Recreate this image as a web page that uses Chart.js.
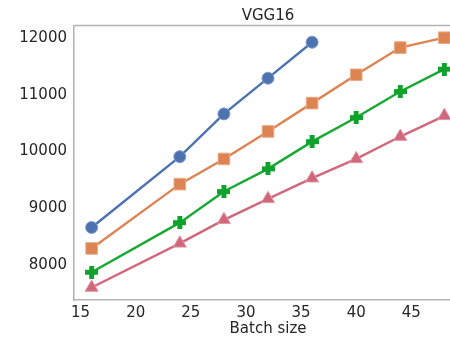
<!DOCTYPE html>
<html>
<head>
<meta charset="utf-8">
<script src="https://cdn.jsdelivr.net/npm/chart.js@4"></script>
<style>
    html, body { margin: 0; padding: 0; background: #fff; overflow: hidden; }
    #wrap { width: 480px; height: 338px; }
</style>
</head>
<body>
<div id="wrap"><canvas id="chart" width="480" height="338"></canvas></div>
<script>
"use strict";

// Throughput per batch size, one series per configuration
const batchBlue = [16, 24, 28, 32, 36];
const valuesBlue = [8660, 9910, 10665, 11295, 11930];

const batchOrange = [16, 24, 28, 32, 36, 40, 44, 48];
const valuesOrange = [8290, 9425, 9870, 10355, 10855, 11355, 11835, 12010];

const batchGreen = [16, 24, 28, 32, 36, 40, 44, 48];
const valuesGreen = [7870, 8745, 9295, 9695, 10175, 10600, 11060, 11455];

const batchRed = [16, 24, 28, 32, 36, 40, 44, 48];
const valuesRed = [7600, 8380, 8795, 9165, 9530, 9870, 10265, 10630];

const xTicks = [15, 20, 25, 30, 35, 40, 45];
const yTicks = [8000, 9000, 10000, 11000, 12000];

const FONT = "'DejaVu Sans', sans-serif";
const TEXT = "#262626";
const FRAME = "#b3b3b3";

/**
 * Filled plus marker, drawn once on a small canvas
 */
function plusMarker(color, size) {
    const c = document.createElement("canvas");
    c.width = size;
    c.height = size;
    const ctx = c.getContext("2d");
    const arm = size * 0.38;
    const a = (size - arm) / 2;
    ctx.fillStyle = color;
    ctx.fillRect(a, 0, arm, size);
    ctx.fillRect(0, a, size, arm);
    return c;
}

const toPoints = (xs, ys) => xs.map((x, i) => ({ x, y: ys[i] }));

// Frame line along the top of the plot area (left/bottom come from the axes)
const frameTop = {
    id: "frameTop",
    afterDraw(chart) {
        const { ctx, chartArea } = chart;
        ctx.save();
        ctx.strokeStyle = FRAME;
        ctx.lineWidth = 1.5;
        ctx.beginPath();
        ctx.moveTo(chartArea.left, chartArea.top);
        ctx.lineTo(chartArea.right + 2, chartArea.top);
        ctx.stroke();
        ctx.restore();
    },
};

const base = {
    borderWidth: 2.4,
    pointBorderWidth: 1,
    showLine: true,
    tension: 0,
};

new Chart(document.getElementById("chart"), {
    type: "line",
    data: {
        datasets: [
            {
                ...base,
                data: toPoints(batchBlue, valuesBlue),
                borderColor: "#4c72b0",
                backgroundColor: "#4c72b0",
                pointBorderColor: "#7f9acb",
                pointStyle: "circle",
                pointRadius: 6,
            },
            {
                ...base,
                data: toPoints(batchOrange, valuesOrange),
                borderColor: "#dd8452",
                backgroundColor: "#dd8452",
                pointBorderColor: "#eaaa86",
                pointStyle: "rect",
                pointRadius: 8.2,
            },
            {
                ...base,
                data: toPoints(batchGreen, valuesGreen),
                borderColor: "#18a834",
                backgroundColor: "#18a834",
                pointStyle: plusMarker("#10a22c", 13),
                pointRadius: 6.5,
            },
            {
                ...base,
                data: toPoints(batchRed, valuesRed),
                borderColor: "#d0677a",
                backgroundColor: "#d0677a",
                pointBorderColor: "#e094a2",
                pointStyle: "triangle",
                pointRadius: 7.5,
            },
        ],
    },
    options: {
        responsive: false,
        animation: false,
        layout: { padding: { left: 0, right: 18, top: 0, bottom: 0 } },
        plugins: {
            legend: { display: false },
            tooltip: { enabled: false },
            title: {
                display: true,
                fullSize: false,
                text: "VGG16",
                color: TEXT,
                font: { family: FONT, size: 15, weight: "normal" },
                padding: { top: 7, bottom: 0.5 },
            },
        },
        scales: {
            x: {
                type: "linear",
                min: 14.4,
                max: 49.6,
                afterFit: (scale) => { scale.height = 38; },
                afterBuildTicks: (scale) => {
                    scale.ticks = xTicks.map((v) => ({ value: v }));
                },
                grid: { display: false, drawTicks: false },
                border: { display: true, color: FRAME, width: 1.5 },
                ticks: {
                    color: TEXT,
                    font: { family: FONT, size: 15 },
                    padding: 4,
                    maxRotation: 0,
                },
                title: {
                    display: true,
                    text: "Batch size",
                    color: TEXT,
                    font: { family: FONT, size: 15 },
                    padding: { top: 0, bottom: 0 },
                },
            },
            y: {
                min: 7380,
                max: 12225,
                afterFit: (scale) => { scale.width = 74; },
                afterBuildTicks: (scale) => {
                    scale.ticks = yTicks.map((v) => ({ value: v }));
                },
                grid: { display: false, drawTicks: false },
                border: { display: true, color: FRAME, width: 1.5 },
                ticks: {
                    color: TEXT,
                    font: { family: FONT, size: 15 },
                    padding: 7,
                    callback: (v) => String(v),
                },
            },
        },
    },
    plugins: [frameTop],
});
</script>
</body>
</html>
